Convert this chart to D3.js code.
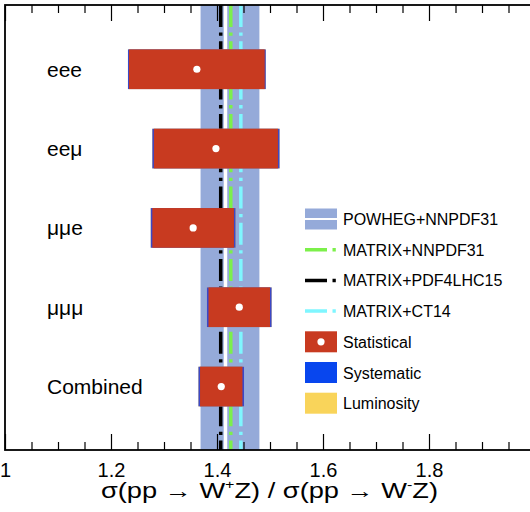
<!DOCTYPE html>
<html>
<head>
<meta charset="utf-8">
<script src="https://cdn.jsdelivr.net/npm/d3@7"></script>
<style>
  html, body { margin: 0; padding: 0; background: #fff; }
  svg { display: block; }
  text { font-family: "Liberation Sans", Arial, Helvetica, sans-serif; fill: #000; }
</style>
</head>
<body>
<svg id="chart" width="530" height="512"></svg>
<script>
// ---------------- data ----------------
const channels = ["eee", "eeμ", "μμe", "μμμ", "Combined"];
const centralValues = [1.362, 1.398, 1.355, 1.442, 1.408];
const statErrors = [0.128, 0.117, 0.077, 0.058, 0.040];
const systErrors = [0.002, 0.003, 0.003, 0.003, 0.003];
const lumiErrors = [0.000, 0.000, 0.000, 0.000, 0.000];

const powhegName = "POWHEG+NNPDF31";
const powhegCentral = 1.416;
const powhegBand = [1.369, 1.480];

const matrixNames = ["MATRIX+NNPDF31", "MATRIX+PDF4LHC15", "MATRIX+CT14"];
const matrixValues = [1.426, 1.407, 1.445];

const xMajorTicks = [1, 1.2, 1.4, 1.6, 1.8, 2];
const xTickLabels = ["1", "1.2", "1.4", "1.6", "1.8", "2"];
const xDomain = [1, 2];

const legendLabels = ["POWHEG+NNPDF31", "MATRIX+NNPDF31", "MATRIX+PDF4LHC15", "MATRIX+CT14", "Statistical", "Systematic", "Luminosity"];

// ---------------- styles ----------------
const colBand = "#95aad9";
const colStat = "#c83a20";
const colSyst = "#0846ee";
const colLumi = "#f9d45a";
const matrixColors = ["#7cf04a", "#000000", "#7ff6ff"];
const dashPattern = "22,5.5,3.3,5.5";

// ---------------- layout ----------------
const svg = d3.select("#chart");
const pL = 5, pR = 535, pT = 5, pB = 450;

const x = d3.scaleLinear().domain(xDomain).range([pL, pR]);
const y = d3.scaleLinear().domain([-0.81, 4.80]).range([pT, pB]);

const plot = svg.append("g");

// theory band
plot.append("rect")
  .attr("x", x(powhegBand[0])).attr("y", pT)
  .attr("width", x(powhegBand[1]) - x(powhegBand[0]))
  .attr("height", pB - pT)
  .attr("fill", colBand);
plot.append("line")
  .attr("x1", x(powhegCentral)).attr("x2", x(powhegCentral))
  .attr("y1", pT).attr("y2", pB)
  .attr("stroke", "#fff").attr("stroke-width", 3.5);

// MATRIX lines
plot.selectAll("line.matrix").data(matrixValues).join("line")
  .attr("class", "matrix")
  .attr("x1", d => x(d)).attr("x2", d => x(d))
  .attr("y1", pT).attr("y2", pB)
  .attr("stroke", (d, i) => matrixColors[i])
  .attr("stroke-width", 3.5)
  .attr("stroke-dasharray", dashPattern);

// measurement boxes
const boxHalf = 0.25;
const rows = channels.map((c, i) => ({
  c, i, v: centralValues[i], stat: statErrors[i], syst: systErrors[i], lumi: lumiErrors[i]
}));

plot.selectAll("rect.lumi").data(rows).join("rect")
  .attr("class", "lumi")
  .attr("x", d => x(d.v - d.stat - d.syst - d.lumi))
  .attr("width", d => x(d.v + d.stat + d.syst + d.lumi) - x(d.v - d.stat - d.syst - d.lumi))
  .attr("y", d => y(d.i - boxHalf))
  .attr("height", d => y(d.i + boxHalf) - y(d.i - boxHalf))
  .attr("fill", colLumi);
plot.selectAll("rect.syst").data(rows).join("rect")
  .attr("class", "syst")
  .attr("x", d => x(d.v - d.stat - d.syst))
  .attr("width", d => x(d.v + d.stat + d.syst) - x(d.v - d.stat - d.syst))
  .attr("y", d => y(d.i - boxHalf))
  .attr("height", d => y(d.i + boxHalf) - y(d.i - boxHalf))
  .attr("fill", "#3b48c8");
plot.selectAll("rect.stat").data(rows).join("rect")
  .attr("class", "stat")
  .attr("x", d => x(d.v - d.stat))
  .attr("width", d => x(d.v + d.stat) - x(d.v - d.stat))
  .attr("y", d => y(d.i - boxHalf))
  .attr("height", d => y(d.i + boxHalf) - y(d.i - boxHalf))
  .attr("fill", colStat);
plot.selectAll("circle.pt").data(rows).join("circle")
  .attr("class", "pt")
  .attr("cx", d => x(d.v)).attr("cy", d => y(d.i))
  .attr("r", 3.6).attr("fill", "#fff");

// channel labels
plot.selectAll("text.chan").data(rows).join("text")
  .attr("class", "chan")
  .attr("x", 47).attr("y", d => y(d.i) + 7.5)
  .attr("font-size", 21)
  .text(d => d.c);

// axes (ticks inside, top and bottom)
const minorTicks = d3.range(1, 2.0001, 0.05).filter(v => !xMajorTicks.some(m => Math.abs(m - v) < 1e-6));
const axB = svg.append("g").attr("transform", `translate(0,${pB})`)
  .call(d3.axisBottom(x).tickValues(xMajorTicks).tickSize(-16).tickPadding(13)
        .tickFormat((d, i) => xTickLabels[i]));
axB.select(".domain").remove();
axB.selectAll(".tick line").attr("stroke", "#000").attr("stroke-width", 1.2);
axB.selectAll(".tick text").attr("font-size", 20).attr("fill", "#000")
   .attr("font-family", '"Liberation Sans", Arial, sans-serif');
const axBm = svg.append("g").attr("transform", `translate(0,${pB})`)
  .call(d3.axisBottom(x).tickValues(minorTicks).tickSize(-8).tickFormat(""));
axBm.select(".domain").remove();
axBm.selectAll(".tick line").attr("stroke", "#000").attr("stroke-width", 1.2);

const axT = svg.append("g").attr("transform", `translate(0,${pT})`)
  .call(d3.axisTop(x).tickValues(xMajorTicks).tickSize(-16).tickFormat(""));
axT.select(".domain").remove();
axT.selectAll(".tick line").attr("stroke", "#000").attr("stroke-width", 1.2);
const axTm = svg.append("g").attr("transform", `translate(0,${pT})`)
  .call(d3.axisTop(x).tickValues(minorTicks).tickSize(-8).tickFormat(""));
axTm.select(".domain").remove();
axTm.selectAll(".tick line").attr("stroke", "#000").attr("stroke-width", 1.2);

// frame
svg.append("rect")
  .attr("x", pL).attr("y", pT)
  .attr("width", pR - pL).attr("height", pB - pT)
  .attr("fill", "none").attr("stroke", "#000").attr("stroke-width", 1.8);

// axis title
const title = svg.append("text")
  .attr("x", 101).attr("y", 498)
  .attr("text-anchor", "start")
  .attr("font-size", 22)
  .attr("textLength", 337)
  .attr("lengthAdjust", "spacingAndGlyphs");
title.append("tspan").text("σ(pp → W");
title.append("tspan").attr("font-size", 13).attr("dy", -9).text("+");
title.append("tspan").attr("dy", 9).text("Z) / σ(pp → W");
title.append("tspan").attr("font-size", 13).attr("dy", -9).text("-");
title.append("tspan").attr("dy", 9).text("Z)");

// legend
const legX = 305, legW = 32, legH = 21, legY0 = 219, legDy = 30.7, legTextX = 343;
const leg = svg.append("g");
legendLabels.forEach((lab, k) => {
  const cy = legY0 + k * legDy;
  if (k === 0) {
    leg.append("rect").attr("x", legX).attr("y", cy - legH / 2).attr("width", legW).attr("height", legH).attr("fill", colBand);
    leg.append("line").attr("x1", legX).attr("x2", legX + legW).attr("y1", cy).attr("y2", cy).attr("stroke", "#fff").attr("stroke-width", 2);
  } else if (k <= 3) {
    leg.append("line").attr("x1", legX).attr("x2", legX + legW).attr("y1", cy).attr("y2", cy)
      .attr("stroke", matrixColors[k - 1]).attr("stroke-width", 3.5).attr("stroke-dasharray", dashPattern);
  } else {
    const fill = k === 4 ? colStat : k === 5 ? colSyst : colLumi;
    leg.append("rect").attr("x", legX).attr("y", cy - legH / 2).attr("width", legW).attr("height", legH).attr("fill", fill);
    if (k === 4) leg.append("circle").attr("cx", legX + legW / 2).attr("cy", cy).attr("r", 3.6).attr("fill", "#fff");
  }
  leg.append("text").attr("x", legTextX).attr("y", cy + 6).attr("font-size", 16).text(lab);
});
</script>
</body>
</html>
